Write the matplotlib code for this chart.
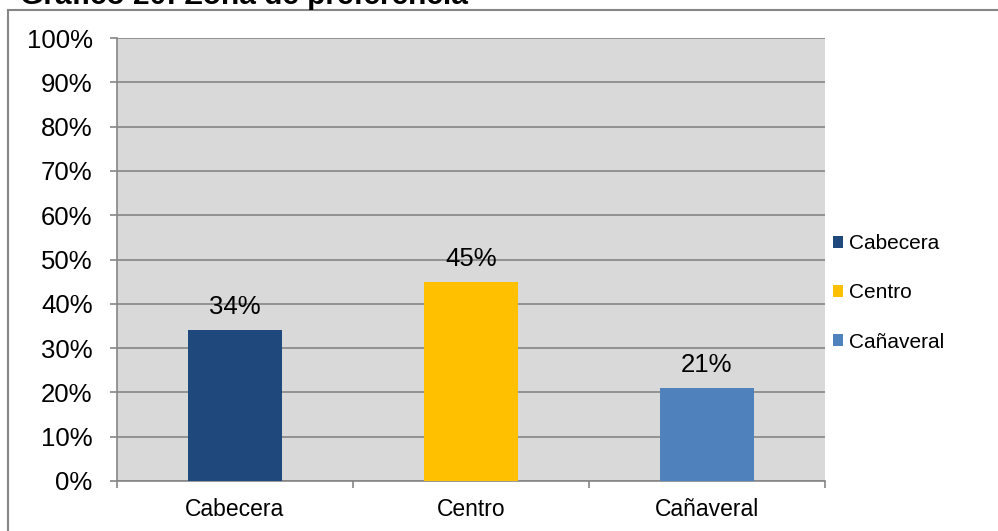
import matplotlib.pyplot as plt
from matplotlib.lines import Line2D
from matplotlib.patches import Patch

zonas = ["Cabecera", "Centro", "Cañaveral"]
porcentajes = [34, 45, 21]
colores = ["#1F497D", "#FFC000", "#4F81BD"]
yticks = list(range(0, 101, 10))

plt.rcParams["font.family"] = ["Liberation Sans", "DejaVu Sans"]

fig = plt.figure(figsize=(9.98, 5.31), dpi=100)
W, H = 998, 531
ax = fig.add_axes([117 / W, (H - 481) / H, (825 - 117) / W, (481 - 38) / H])

x = range(len(zonas))
ax.bar(x, porcentajes, width=0.4, color=colores, zorder=3)
for xi, v in zip(x, porcentajes):
    ax.text(xi, v + 3.6, f"{v}%", ha="center", va="baseline", fontsize=18.5)

ax.set_facecolor("#D9D9D9")
ax.set_xlim(-0.5, 2.5)
ax.set_ylim(0, 100)
ax.set_yticks(yticks)
ax.set_yticklabels([f"{t}%" for t in yticks], fontsize=18.5)
ax.yaxis.grid(True, color="#868686", linewidth=1.2, zorder=0)
ax.set_axisbelow(True)

# category labels centred, tick marks on the category boundaries
ax.set_xticks(list(x))
ax.set_xticklabels(zonas, fontsize=16.5)
ax.tick_params(axis="x", length=0, pad=12.5)
ax.set_xticks([-0.5, 0.5, 1.5, 2.5], minor=True)
ax.tick_params(axis="x", which="minor", length=5, color="#868686", width=1.2)
ax.tick_params(axis="y", length=5, color="#868686", width=1.2, pad=12.5)

for s in ["top", "right"]:
    ax.spines[s].set_visible(False)
for s in ["left", "bottom"]:
    ax.spines[s].set_color("#868686")
    ax.spines[s].set_linewidth(1.2)

handles = [Patch(facecolor=c, label=z) for z, c in zip(zonas, colores)]
leg = fig.legend(handles=handles, loc="center left",
                 bbox_to_anchor=(814 / W, 1 - 293 / H), frameon=False,
                 fontsize=15, handlelength=0.5, handleheight=0.5,
                 handletextpad=0.3, labelspacing=1.45)

# outer chart frame (left and top edges)
fig.add_artist(Line2D([7.5 / W, 7.5 / W], [0, 1 - 10 / H], color="#868686", lw=1.5))
fig.add_artist(Line2D([7.5 / W, 1], [1 - 10 / H, 1 - 10 / H], color="#868686", lw=1.5))

fig.text(20 / W, 1 - 4 / H, "Gráfico 20: Zona de preferencia",
         fontsize=21.5, fontweight="bold", ha="left", va="baseline")

fig.savefig("out.png", dpi=100)
